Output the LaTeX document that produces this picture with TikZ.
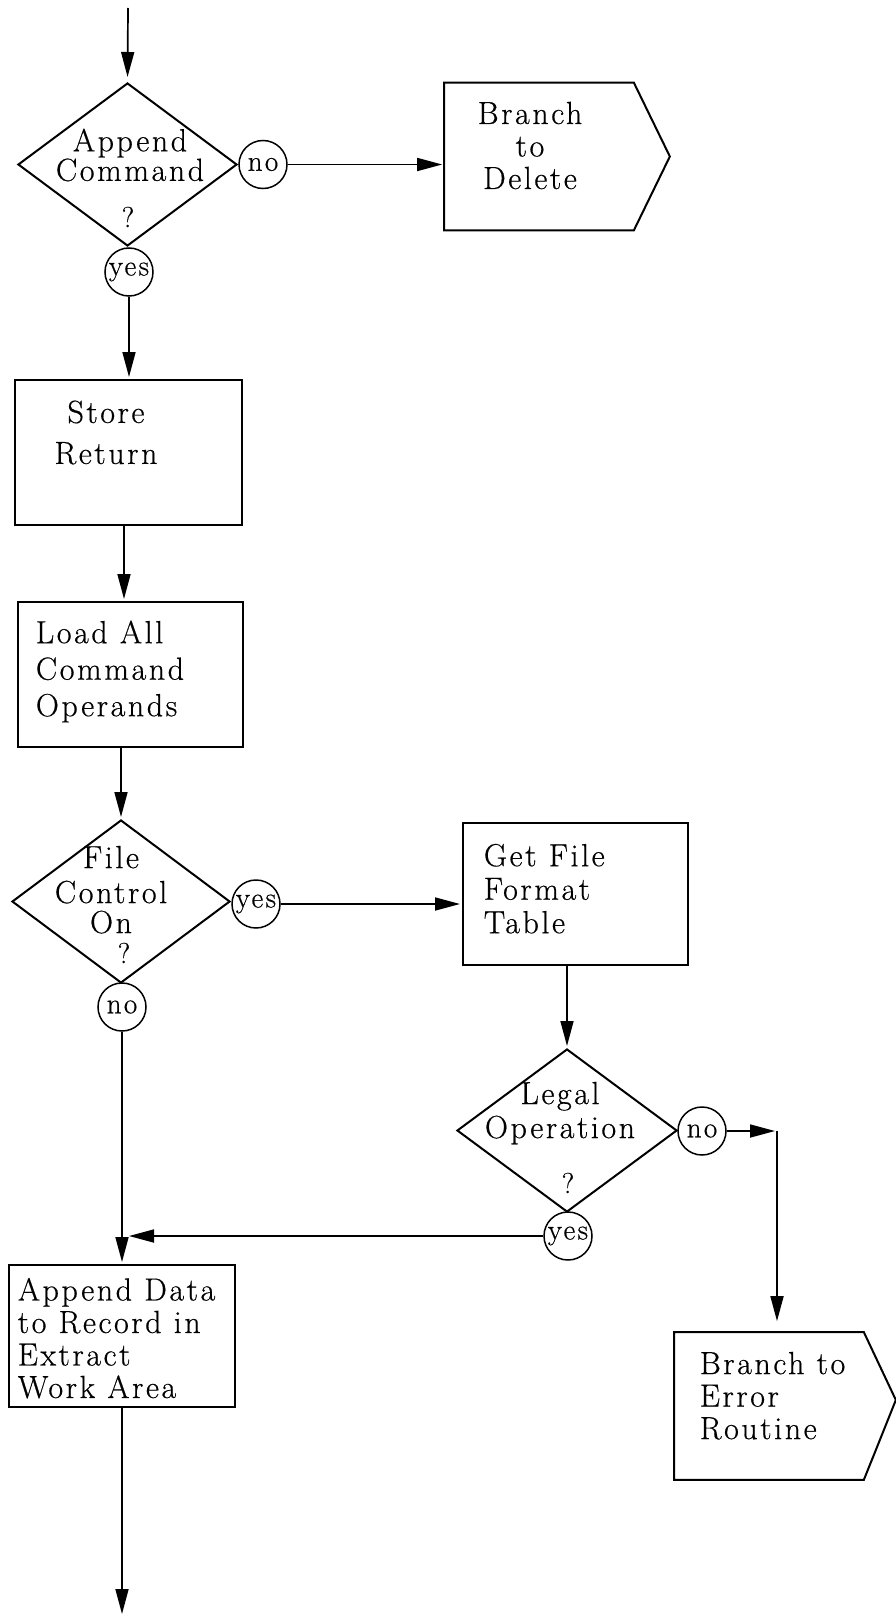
\documentclass[tikz,border=0pt]{standalone}
\usepackage{fontspec}
\setmainfont{Latin Modern Roman}[LetterSpace=8,FakeBold=0.5]
\usepackage{tikz}
\usetikzlibrary{arrows.meta,shapes.geometric}

\begin{document}
\begin{tikzpicture}[->,>={Triangle[length=25pt,width=13pt]},shorten >=2pt,
                    x=1pt,y=-1pt,line width=1.7pt,
                    decision/.style={diamond,draw,line width=2pt,inner sep=0pt},
                    box/.style={rectangle,draw,line width=2pt,inner sep=0pt},
                    branch/.style={rectangle,inner sep=0pt,minimum width=188pt,minimum height=146pt},
                    answer/.style={circle,draw,line width=1.5pt,inner sep=0pt,minimum size=48pt,font=\fontsize{29}{29}\selectfont},
                    words/.style={inner sep=0pt,font=\fontsize{32}{#1}\selectfont},
                    quest/.style={inner sep=0pt,font=\fontsize{29}{29}\selectfont}]

  \useasboundingbox (0,0) rectangle (895,1616);

  \coordinate (start) at (128,8);
  \node[decision,minimum width=219pt,minimum height=163pt] (append) at (127.5,164.5) {};
  \node[words=25,align=center] (append-t) at (130,155) {Append\\Command};
  \node[quest] (append-q) at (128,217) {?};
  \node[answer] (no1) at (263,164.5) {no};
  \node[branch] (delete) at (539,156.5) {};
  \node[words=32.5,align=center] (delete-t) at (530,145.5) {Branch\\to\\Delete};
  \node[answer] (yes1) at (129,272) {yes};

  \node[box,minimum width=227pt,minimum height=145pt] (store) at (128.5,452.5) {};
  \node[words=41,align=center] (store-t) at (106,432.5) {Store\\Return};
  \node[box,minimum width=225pt,minimum height=145pt] (load) at (130.5,674.5) {};
  \node[words=36.5,align=left,anchor=west] (load-t) at (35,671.5) {Load All\\Command\\Operands};

  \node[decision,minimum width=218pt,minimum height=163pt] (filectl) at (121,901.5) {};
  \node[words=35,align=center,anchor=north] (filectl-t) at (111,845) {File\\Control\\[-5pt]On};
  \node[quest] (filectl-q) at (124,953) {?};
  \node[answer] (yes2) at (256,904) {yes};
  \node[answer] (no2) at (122,1007) {no};
  \node[box,minimum width=225pt,minimum height=142pt] (getfile) at (575.5,894) {};
  \node[words=33.5,align=left,anchor=north west] (getfile-t) at (483,843) {Get File\\Format\\Table};

  \node[decision,minimum width=220pt,minimum height=163pt] (legal) at (567,1130.5) {};
  \node[words=34,align=center,anchor=north] (legal-t) at (560,1081) {Legal\\Operation};
  \node[quest] (legal-q) at (568,1183) {?};
  \node[answer] (no3) at (702,1131) {no};
  \node[answer] (yes3) at (568,1236) {yes};
  \coordinate (elbow) at (777,1131);
  \node[branch] (error) at (769,1406) {};
  \node[words=32.5,align=left,anchor=north west] (error-t) at (699,1351) {Branch to\\Error\\Routine};

  \node[box,minimum width=226pt,minimum height=142pt] (data) at (122,1336) {};
  \node[words=32.5,align=left,anchor=north west] (data-t) at (17,1277) {Append Data\\to Record in\\Extract\\Work Area};
  \coordinate (end) at (122,1616);

  % branch outlines
  \draw[-,line width=2pt] (delete.north west) -- (delete.north east) -- ([xshift=36pt]delete.east)
    -- (delete.south east) -- (delete.south west) -- cycle;
  \draw[-,line width=2pt] (error.north west) -- (error.north east) -- ([xshift=32pt,yshift=6pt]error.east)
    -- (error.south east) -- (error.south west) -- cycle;

  \draw[shorten >=5pt] (start) -- (append.north);
  \draw (no1) -- (no1 -| delete.west);
  \draw (yes1) -- (yes1 |- store.north);
  \draw ([xshift=-4.5pt]store.south) -- ([xshift=-6.5pt]load.north);
  \draw (load.south -| filectl.north) -- (filectl.north);
  \draw (yes2) -- (yes2 -| getfile.west);
  \draw (getfile.south -| legal.north) -- (legal.north);
  \draw (no3) -- (elbow);
  \draw[shorten >=11pt] (elbow) -- (elbow |- error.north);
  \draw[shorten >=7pt] (yes3) -- (yes3 -| data.north);
  \draw (no2) -- (no2 |- data.north);
  \draw (data.south -| no2) -- (end);
\end{tikzpicture}
\end{document}
